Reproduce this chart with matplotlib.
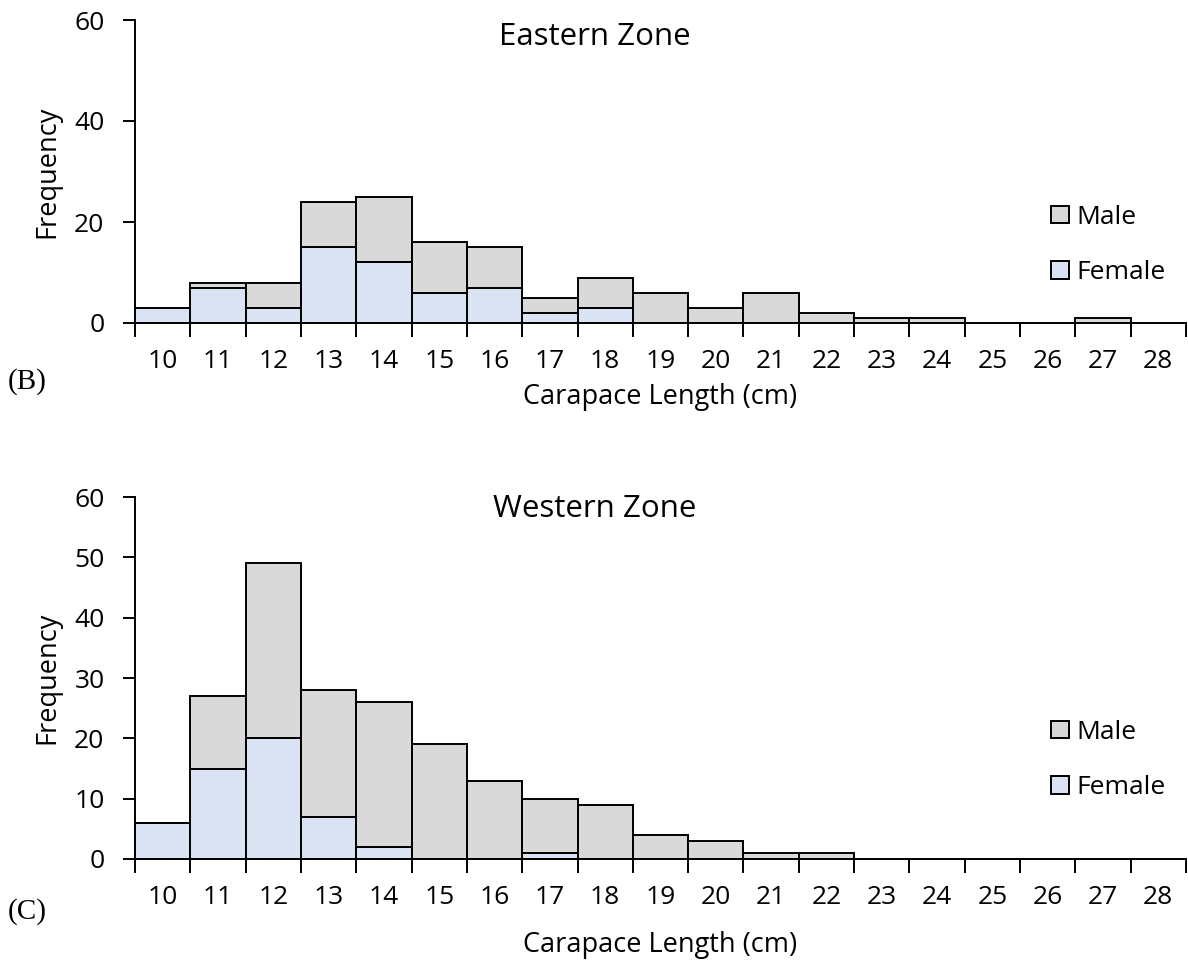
import matplotlib
matplotlib.use("Agg")
import matplotlib.pyplot as plt
from matplotlib.patches import Patch
from matplotlib.ticker import FixedLocator, NullFormatter
import numpy as np

plt.rcParams['font.family'] = ['Open Sans', 'DejaVu Sans']

# Carapace length classes (cm)
lengths = list(range(10, 29))
length_labels = [str(v) for v in lengths]

# Eastern Zone counts per length class
east_female = [3, 7, 3, 15, 12, 6, 7, 2, 3, 0, 0, 0, 0, 0, 0, 0, 0, 0, 0]
east_male = [0, 1, 5, 9, 13, 10, 8, 3, 6, 6, 3, 6, 2, 1, 1, 0, 0, 1, 0]

# Western Zone counts per length class
west_female = [6, 15, 20, 7, 2, 0, 0, 1, 0, 0, 0, 0, 0, 0, 0, 0, 0, 0, 0]
west_male = [0, 12, 29, 21, 24, 19, 13, 9, 9, 4, 3, 1, 1, 0, 0, 0, 0, 0, 0]

series_names = ["Male", "Female"]

MALE_COLOR = "#D9D9D9"
FEMALE_COLOR = "#DAE3F3"
LW = 1.4
TICK_FS = 19
LABEL_FS = 19.5
TITLE_FS = 22.5
LEGEND_FS = 19

W, H = 1188, 965
fig = plt.figure(figsize=(W / 100, H / 100), dpi=100)
ax_e = fig.add_axes([135 / W, 1 - 323 / H, 1051 / W, 303 / H])
ax_w = fig.add_axes([135 / W, 1 - 859 / H, 1051 / W, 362 / H])


def draw_panel(ax, female, male, title, yticks, tag, tag_y, title_y,
               legend_y, xlabel_y):
    x = np.array(lengths)
    ax.bar(x, female, width=1.0, color=FEMALE_COLOR, edgecolor="black",
           linewidth=LW, zorder=2)
    ax.bar(x, male, width=1.0, bottom=female, color=MALE_COLOR,
           edgecolor="black", linewidth=LW, zorder=2)

    ax.set_xlim(lengths[0] - 0.5, lengths[-1] + 0.5)
    ax.set_ylim(0, 60)
    ax.set_yticks(yticks)
    ax.set_yticklabels([str(v) for v in yticks])

    # bin-edge ticks without labels, labels centred on each class
    edges = [v - 0.5 for v in lengths] + [lengths[-1] + 0.5]
    ax.xaxis.set_major_locator(FixedLocator(edges))
    ax.xaxis.set_major_formatter(NullFormatter())
    ax.xaxis.set_minor_locator(FixedLocator(lengths))
    ax.set_xticklabels(length_labels, minor=True)
    ax.tick_params(axis="x", which="major", direction="out", length=10,
                   width=LW, color="black")
    ax.tick_params(axis="x", which="minor", length=0, pad=19,
                   labelsize=TICK_FS)
    ax.tick_params(axis="y", direction="out", length=9, width=LW,
                   pad=13, labelsize=TICK_FS)

    for side in ("top", "right"):
        ax.spines[side].set_visible(False)
    for side in ("left", "bottom"):
        ax.spines[side].set_linewidth(LW)
        ax.spines[side].set_zorder(3)

    ax.set_xlabel("Carapace Length (cm)", fontsize=LABEL_FS)
    ax.xaxis.set_label_coords(0.5, xlabel_y)
    ax.xaxis.label.set_verticalalignment("center")
    ax.set_ylabel("Frequency", fontsize=LABEL_FS)
    ax.yaxis.set_label_coords(-0.0837, 0.5)
    ax.yaxis.label.set_verticalalignment("center")

    ax.text(0.4377, title_y, title, transform=ax.transAxes,
            ha="center", va="center", fontsize=TITLE_FS)

    handles = [Patch(facecolor=MALE_COLOR, edgecolor="black", linewidth=LW),
               Patch(facecolor=FEMALE_COLOR, edgecolor="black", linewidth=LW)]
    ax.legend(handles, series_names, loc="upper left",
              bbox_to_anchor=(0.872, legend_y), frameon=False,
              fontsize=LEGEND_FS, handlelength=0.65, handleheight=0.65,
              handletextpad=0.3, labelspacing=1.15, borderpad=0,
              borderaxespad=0)

    fig.text(8 / W, 1 - tag_y / H, tag, family="Liberation Serif",
             fontsize=21, ha="left", va="center")


draw_panel(ax_e, east_female, east_male, "Eastern Zone", [0, 20, 40, 60],
           "(B)", 382, 0.944, 0.39, -0.244)
draw_panel(ax_w, west_female, west_male, "Western Zone",
           [0, 10, 20, 30, 40, 50, 60], "(C)", 912, 0.967, 0.385, -0.2376)

fig.savefig("out.png", dpi=100)
